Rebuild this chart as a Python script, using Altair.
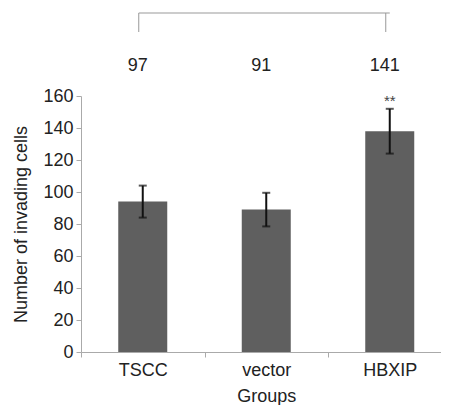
import altair as alt
import pandas as pd

groups = ["TSCC", "vector", "HBXIP"]
means = [94, 89, 138]
errs = [10, 10.5, 14]
top_labels = ["97", "91", "141"]
stars = ["", "", "**"]

df = pd.DataFrame({
    "group": groups,
    "mean": means,
    "lo": [m - e for m, e in zip(means, errs)],
    "hi": [m + e for m, e in zip(means, errs)],
    "label": top_labels,
    "star": stars,
})

FONT = "Liberation Sans"

xscale = alt.Scale(domain=groups, paddingInner=0, paddingOuter=0, range=[0, 370.5])
x = alt.X("group:N", title="Groups", scale=xscale,
          axis=alt.Axis(labelAngle=0, tickBand="extent", tickSize=5,
                        labelPadding=4, titlePadding=8))
xs = alt.X("group:N", scale=xscale)
yscale = alt.Scale(domain=[0, 160], nice=False)
yaxis = alt.Axis(values=list(range(0, 161, 20)), grid=False,
                 labelOverlap=False, labelFlush=False,
                 tickSize=5, labelPadding=3, titlePadding=12)
y = alt.Y("mean:Q", title="Number of invading cells", scale=yscale, axis=yaxis)

base = alt.Chart(df)

bars = base.mark_bar(color="#5f5f5f", size=49).encode(x=x, y=y)

err_rule = base.mark_rule(color="#111111", strokeWidth=2).encode(
    x=xs, y=alt.Y("lo:Q", scale=yscale, axis=yaxis), y2="hi:Q")
cap_lo = base.mark_tick(color="#111111", size=8, thickness=2).encode(
    x=xs, y=alt.Y("lo:Q", scale=yscale, axis=yaxis))
cap_hi = base.mark_tick(color="#111111", size=8, thickness=2).encode(
    x=xs, y=alt.Y("hi:Q", scale=yscale, axis=yaxis))

star_text = base.mark_text(font=FONT, fontSize=15, color="#444444",
                           baseline="bottom", dy=0).encode(
    x=xs, y=alt.Y("hi:Q", scale=yscale, axis=yaxis), text="star:N")

top_text = base.mark_text(font=FONT, fontSize=18, color="#222222",
                          baseline="middle", dx=-5).encode(
    x=xs, y=alt.value(-30), text="label:N")

bracket_df = pd.DataFrame({"start": ["TSCC"], "end": ["HBXIP"]})
bracket_h = alt.Chart(bracket_df).mark_rule(color="#999999", strokeWidth=1,
                                            xOffset=-4).encode(
    x=alt.X("start:N", scale=xscale), x2="end:N", y=alt.value(-83))
bracket_v = alt.Chart(pd.DataFrame({"g": ["TSCC", "HBXIP"]})).mark_rule(
    color="#999999", strokeWidth=1, xOffset=-4).encode(
    x=alt.X("g:N", scale=xscale), y=alt.value(-83), y2=alt.value(-64))

chart = alt.layer(bars, err_rule, cap_lo, cap_hi, star_text, top_text,
                  bracket_h, bracket_v).properties(
    width=360, height=256,
    autosize=alt.AutoSizeParams(type="none"),
    padding={"left": 73, "top": 88, "right": 0, "bottom": 55},
).configure_view(stroke=None).configure_axis(
    domainColor="#aaaaaa", tickColor="#aaaaaa",
    labelFont=FONT, titleFont=FONT,
    labelFontSize=18, titleFontSize=18,
    labelColor="#222222", titleColor="#222222",
    titleFontWeight="normal",
)

chart.save("out.html", embed_options={"renderer": "svg", "actions": False})
